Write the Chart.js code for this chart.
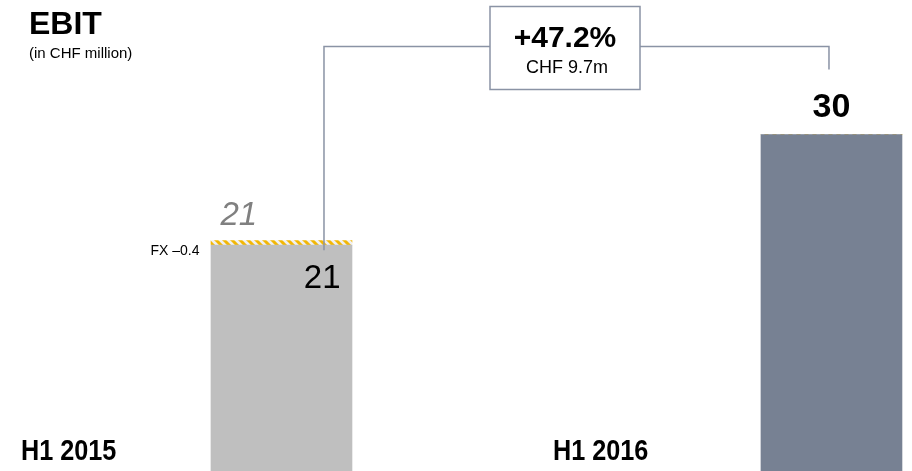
<!DOCTYPE html>
<html>
<head>
<meta charset="utf-8">
<script src="https://cdn.jsdelivr.net/npm/chart.js@4/dist/chart.umd.min.js"></script>
<style>
  body { margin: 0; background: #fff; }
  #wrap { width: 912px; height: 471px; position: relative; }
</style>
</head>
<body>
<div id="wrap"><canvas id="graph" width="912" height="471"></canvas></div>
<script>
// data
const periods = ["H1 2015", "H1 2016"];
const ebit = [20.6, 30.3];
const fxEffect = [0.4, 0];
const fxLabel = "FX \u20130.4";
const growthPct = "+47.2%";
const growthAbs = "CHF 9.7m";

const barColors = ['#bfbfbf', '#778193'];
const lineColor = '#8a93a5';

// hatched pattern for the FX slice
function hatch() {
    const c = document.createElement('canvas');
    c.width = 8; c.height = 8;
    const x = c.getContext('2d');
    x.fillStyle = '#f0f0f0';
    x.fillRect(0, 0, 8, 8);
    x.strokeStyle = '#f2b705';
    x.lineWidth = 3;
    x.beginPath();
    x.moveTo(-2, -2); x.lineTo(10, 10);
    x.moveTo(-10, -2); x.lineTo(2, 10);
    x.moveTo(6, -2); x.lineTo(18, 10);
    x.stroke();
    return x.createPattern(c, 'repeat');
}

const extras = {
    id: 'extras',
    afterDatasetsDraw(chart) {
        const ctx = chart.ctx;
        const xs = chart.scales.x, ys = chart.scales.y;
        const x0 = xs.getPixelForValue(0), x1 = xs.getPixelForValue(1);
        const y0 = ys.getPixelForValue(ebit[0]);
        const yfx = ys.getPixelForValue(ebit[0] + fxEffect[0]);
        const y1 = ys.getPixelForValue(ebit[1]);
        ctx.save();

        // title
        ctx.fillStyle = '#000';
        ctx.textAlign = 'left';
        ctx.font = 'bold 32px "Liberation Sans", Arial, sans-serif';
        ctx.fillText('EBIT', 29, 34);
        ctx.font = '15px "Liberation Sans", Arial, sans-serif';
        ctx.fillText('(in CHF million)', 29, 58);

        // period labels (narrow look)
        ctx.font = 'bold 29px "Liberation Sans", Arial, sans-serif';
        periods.forEach((p, i) => {
            ctx.save();
            ctx.translate(21 + i * 532, 460);
            ctx.scale(0.87, 1);
            ctx.fillText(p, 0, 0);
            ctx.restore();
        });

        // values
        ctx.font = '33px "Liberation Sans", Arial, sans-serif';
        ctx.textAlign = 'right';
        ctx.fillText(Math.round(ebit[0]), x0 + 59, y0 + 43);
        ctx.font = 'italic 33px "Liberation Sans", Arial, sans-serif';
        ctx.fillStyle = '#808080';
        ctx.textAlign = 'left';
        ctx.fillText(Math.round(ebit[0] + fxEffect[0]), x0 - 61, yfx - 16);
        ctx.font = 'bold 34px "Liberation Sans", Arial, sans-serif';
        ctx.fillStyle = '#000';
        ctx.textAlign = 'center';
        ctx.fillText(Math.round(ebit[1]), x1, y1 - 18);

        ctx.font = '14px "Liberation Sans", Arial, sans-serif';
        ctx.textAlign = 'right';
        ctx.fillText(fxLabel, x0 - 82, yfx + 14);

        // bracket
        const lx = x0 + 42.5, rx = x1 - 2.5, top = 46.5;
        const bl = 490, bw = 150, bt = 6.5, bh = 83;
        ctx.strokeStyle = lineColor;
        ctx.lineWidth = 1.5;
        ctx.beginPath();
        ctx.moveTo(lx, y0 + 5); ctx.lineTo(lx, top); ctx.lineTo(bl, top);
        ctx.moveTo(bl + bw, top); ctx.lineTo(rx, top); ctx.lineTo(rx, top + 23);
        ctx.stroke();
        ctx.strokeRect(bl, bt, bw, bh);

        ctx.fillStyle = '#000';
        ctx.textAlign = 'center';
        ctx.font = 'bold 30px "Liberation Sans", Arial, sans-serif';
        ctx.fillText(growthPct, bl + bw / 2, 47);
        ctx.font = '18px "Liberation Sans", Arial, sans-serif';
        ctx.fillText(growthAbs, bl + bw / 2 + 2, 73);
        ctx.restore();
    }
};

const graph = document.getElementById('graph').getContext('2d');

let myChart = new Chart(graph, {
    type: 'bar',
    data: {
        datasets: [
            {
                label: 'EBIT',
                data: ebit.map((v, i) => ({ x: i, y: v })),
                backgroundColor: barColors,
                barThickness: 141,
            },
            {
                label: 'FX',
                data: fxEffect.map((v, i) => ({ x: i, y: v })),
                backgroundColor: hatch(),
                barThickness: 141,
            },
        ],
    },
    options: {
        responsive: false,
        animation: false,
        layout: { padding: 0 },
        plugins: {
            legend: { display: false },
            tooltip: { enabled: false },
        },
        scales: {
            x: { type: 'linear', offset: false, stacked: true, display: false, min: -0.5118, max: 1.1464 },
            y: { stacked: true, display: false, min: 0.8, max: 42.1 },
        },
    },
    plugins: [extras],
});
</script>
</body>
</html>
